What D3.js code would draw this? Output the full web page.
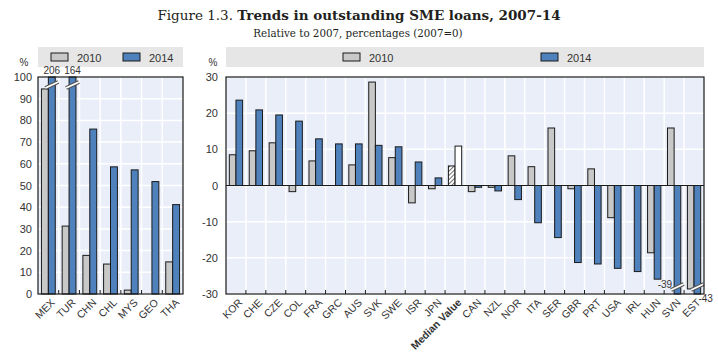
<!DOCTYPE html>
<html><head><meta charset="utf-8">
<script src="https://cdn.jsdelivr.net/npm/d3@7"></script>
<style>
body{margin:0;background:#fff;}
text{font-family:"Liberation Sans",Arial,sans-serif;}
</style></head>
<body><svg id="c" width="718" height="355"></svg>
<script>
// ---- data ----
const leftCats = ["MEX","TUR","CHN","CHL","MYS","GEO","THA"];
const left2010 = [94.5, 31.3, 17.8, 13.8, 1.8, 0, 14.8];
const left2014 = [206, 164, 76, 58.6, 57.2, 51.8, 41.2];
const leftTicks = [0,10,20,30,40,50,60,70,80,90,100];

const rightCats = ["KOR","CHE","CZE","COL","FRA","GRC","AUS","SVK","SWE","ISR","JPN","Median Value","CAN","NZL","NOR","ITA","SER","GBR","PRT","USA","IRL","HUN","SVN","EST"];
const right2010 = [8.5, 9.6, 11.8, -1.7, 6.8, 0, 5.7, 28.6, 7.7, -4.8, -0.9, 5.4, -1.7, -0.5, 8.2, 5.2, 15.9, -0.9, 4.6, -8.9, 0, -18.6, 15.9, -28.6];
const right2014 = [23.6, 20.9, 19.5, 17.8, 12.9, 11.5, 11.5, 11.1, 10.7, 6.5, 2.1, 10.9, -0.5, -1.5, -3.9, -10.3, -14.4, -21.3, -21.7, -22.9, -23.8, -25.9, -39, -43];
const rightTicks = [-30,-20,-10,0,10,20,30];

const seriesNames = ["2010","2014"];
const colors = {"2010":"#c8c8c8","2014":"#4f81bd"};

const svg = d3.select("#c");
const defs = svg.append("defs");
const pat = defs.append("pattern").attr("id","hatch").attr("patternUnits","userSpaceOnUse")
  .attr("width",3).attr("height",3).attr("patternTransform","rotate(45)");
pat.append("rect").attr("width",3).attr("height",3).attr("fill","#fff");
pat.append("line").attr("x1",0).attr("y1",0).attr("x2",0).attr("y2",3).attr("stroke","#222").attr("stroke-width",1.3);

// title
const title = svg.append("text").attr("x",359).attr("y",20).attr("text-anchor","middle")
  .style("font-family","'DejaVu Serif','Liberation Serif',serif").style("font-size","13.5px").attr("fill","#231f20");
title.append("tspan").text("Figure 1.3. ");
title.append("tspan").attr("font-weight","bold").text("Trends in outstanding SME loans, 2007-14");
svg.append("text").attr("x",358).attr("y",37).attr("text-anchor","middle")
  .style("font-family","'DejaVu Serif','Liberation Serif',serif").style("font-size","10.3px").attr("fill","#231f20")
  .text("Relative to 2007, percentages (2007=0)");

function panel(cfg){
  const {cats, s1, s2, domain, ticks, x0, x1, yTop, yBot, tickX, pctX, leg1X, leg2X} = cfg;
  const g = svg.append("g");
  const x = d3.scaleBand().domain(cats).range([x0,x1]).padding(0);
  const xs = d3.scaleBand().domain(seriesNames).range([0,x.bandwidth()]).paddingOuter(0.5).paddingInner(0);
  const y = d3.scaleLinear().domain(domain).range([yBot,yTop]);

  // legend band
  g.append("rect").attr("x",x0).attr("y",47).attr("width",x1-x0).attr("height",20).attr("fill","#e6e6e6");
  [[leg1X,"2010"],[leg2X,"2014"]].forEach(([lx,name])=>{
    g.append("rect").attr("x",lx).attr("y",53).attr("width",17).attr("height",8)
      .attr("fill",colors[name]).attr("stroke","#1a1a1a").attr("stroke-width",1);
    g.append("text").attr("x",lx+26).attr("y",61.5).attr("font-size","11px").attr("fill","#333").text(name);
  });
  g.append("text").attr("x",pctX).attr("y",66).attr("text-anchor","middle").attr("font-size","10px").attr("fill","#333").text("%");

  // plot bg
  g.append("rect").attr("x",x0).attr("y",yTop).attr("width",x1-x0).attr("height",yBot-yTop).attr("fill","#e9eef8");
  // gridlines
  g.selectAll(".hg").data(ticks).enter().append("line")
    .attr("x1",x0).attr("x2",x1).attr("y1",d=>y(d)).attr("y2",d=>y(d)).attr("stroke","#fff").attr("stroke-width",1.5);
  g.selectAll(".vg").data(cats.slice(1)).enter().append("line")
    .attr("x1",d=>x(d)).attr("x2",d=>x(d)).attr("y1",yTop).attr("y2",yBot).attr("stroke","#fff").attr("stroke-width",1.5);

  // y tick labels
  g.selectAll(".yt").data(ticks).enter().append("text")
    .attr("x",tickX).attr("y",d=>y(d)+4).attr("text-anchor","end").attr("font-size","11px").attr("fill","#333").text(d=>d);

  // bars
  const rows = [];
  cats.forEach((c,i)=>{ rows.push({c, s:"2010", v:s1[i]}); rows.push({c, s:"2014", v:s2[i]}); });
  const clampV = v => Math.max(domain[0], Math.min(domain[1], v));
  rows.forEach(r=>{
    if (r.v === 0) return;
    const bx = x(r.c) + xs(r.s), bw = xs.bandwidth();
    const v = clampV(r.v);
    const ya = y(Math.max(0,v)), yb = y(Math.min(0,v));
    let fill = colors[r.s];
    if (r.c === "Median Value") fill = r.s==="2010" ? "url(#hatch)" : "#fff";
    g.append("rect").attr("x",bx).attr("y",ya).attr("width",bw).attr("height",yb-ya)
      .attr("fill",fill).attr("stroke","#1a1a1a").attr("stroke-width",1);
    if (v !== r.v) {
      // axis break mark
      const yc = r.v > 0 ? y(domain[1]) + 8 : y(domain[0]) - 7;
      const xa = bx - 3, xb = bx + bw + 3;
      const pts = [[xa,yc+3],[xb,yc-3]];
      g.append("line").attr("x1",pts[0][0]).attr("y1",pts[0][1]).attr("x2",pts[1][0]).attr("y2",pts[1][1])
        .attr("stroke","#555").attr("stroke-width",4);
      g.append("line").attr("x1",pts[0][0]).attr("y1",pts[0][1]).attr("x2",pts[1][0]).attr("y2",pts[1][1])
        .attr("stroke","#fff").attr("stroke-width",1.8);
      if (r.v > 0) {
        g.append("text").attr("x",bx+bw/2).attr("y",y(domain[1])-3).attr("text-anchor","middle")
          .attr("font-size","10px").attr("fill","#333").text(r.v);
      } else if (r.c === "SVN") {
        g.append("text").attr("x",bx-2).attr("y",y(domain[0])-6).attr("text-anchor","end")
          .attr("font-size","10px").attr("fill","#333").text(r.v);
      } else {
        g.append("text").attr("x",bx+bw+5).attr("y",y(domain[0])+8).attr("text-anchor","middle")
          .attr("font-size","10px").attr("fill","#333").text(r.v);
      }
    }
  });

  // zero line
  if (domain[0] < 0) g.append("line").attr("x1",x0).attr("x2",x1).attr("y1",y(0)).attr("y2",y(0)).attr("stroke","#1a1a1a").attr("stroke-width",1.2);
  // frame
  g.append("rect").attr("x",x0).attr("y",yTop).attr("width",x1-x0).attr("height",yBot-yTop)
    .attr("fill","none").attr("stroke","#1a1a1a").attr("stroke-width",1.2);
  // inward ticks at bottom
  g.selectAll(".bt").data(cats.slice(1)).enter().append("line")
    .attr("x1",d=>x(d)).attr("x2",d=>x(d)).attr("y1",yBot).attr("y2",yBot-4).attr("stroke","#1a1a1a").attr("stroke-width",1);

  // x labels
  g.selectAll(".xl").data(cats).enter().append("text")
    .attr("transform",d=>`translate(${x(d)+x.bandwidth()/2+2},${yBot+4}) rotate(-45)`)
    .attr("text-anchor","end").attr("dy","0.7em").attr("fill","#333")
    .attr("font-weight",d=>d==="Median Value"?"bold":"normal")
    .attr("font-size",d=>d==="Median Value"?"10.5px":"10.5px").text(d=>d);
}

panel({cats:leftCats, s1:left2010, s2:left2014, domain:[0,100], ticks:leftTicks,
  x0:38, x1:183, yTop:77, yBot:294, tickX:32, pctX:24, leg1X:51, leg2X:123});
panel({cats:rightCats, s1:right2010, s2:right2014, domain:[-30,30], ticks:rightTicks,
  x0:226, x1:704, yTop:77, yBot:294, tickX:218, pctX:213, leg1X:343, leg2X:541});
</script></body></html>
